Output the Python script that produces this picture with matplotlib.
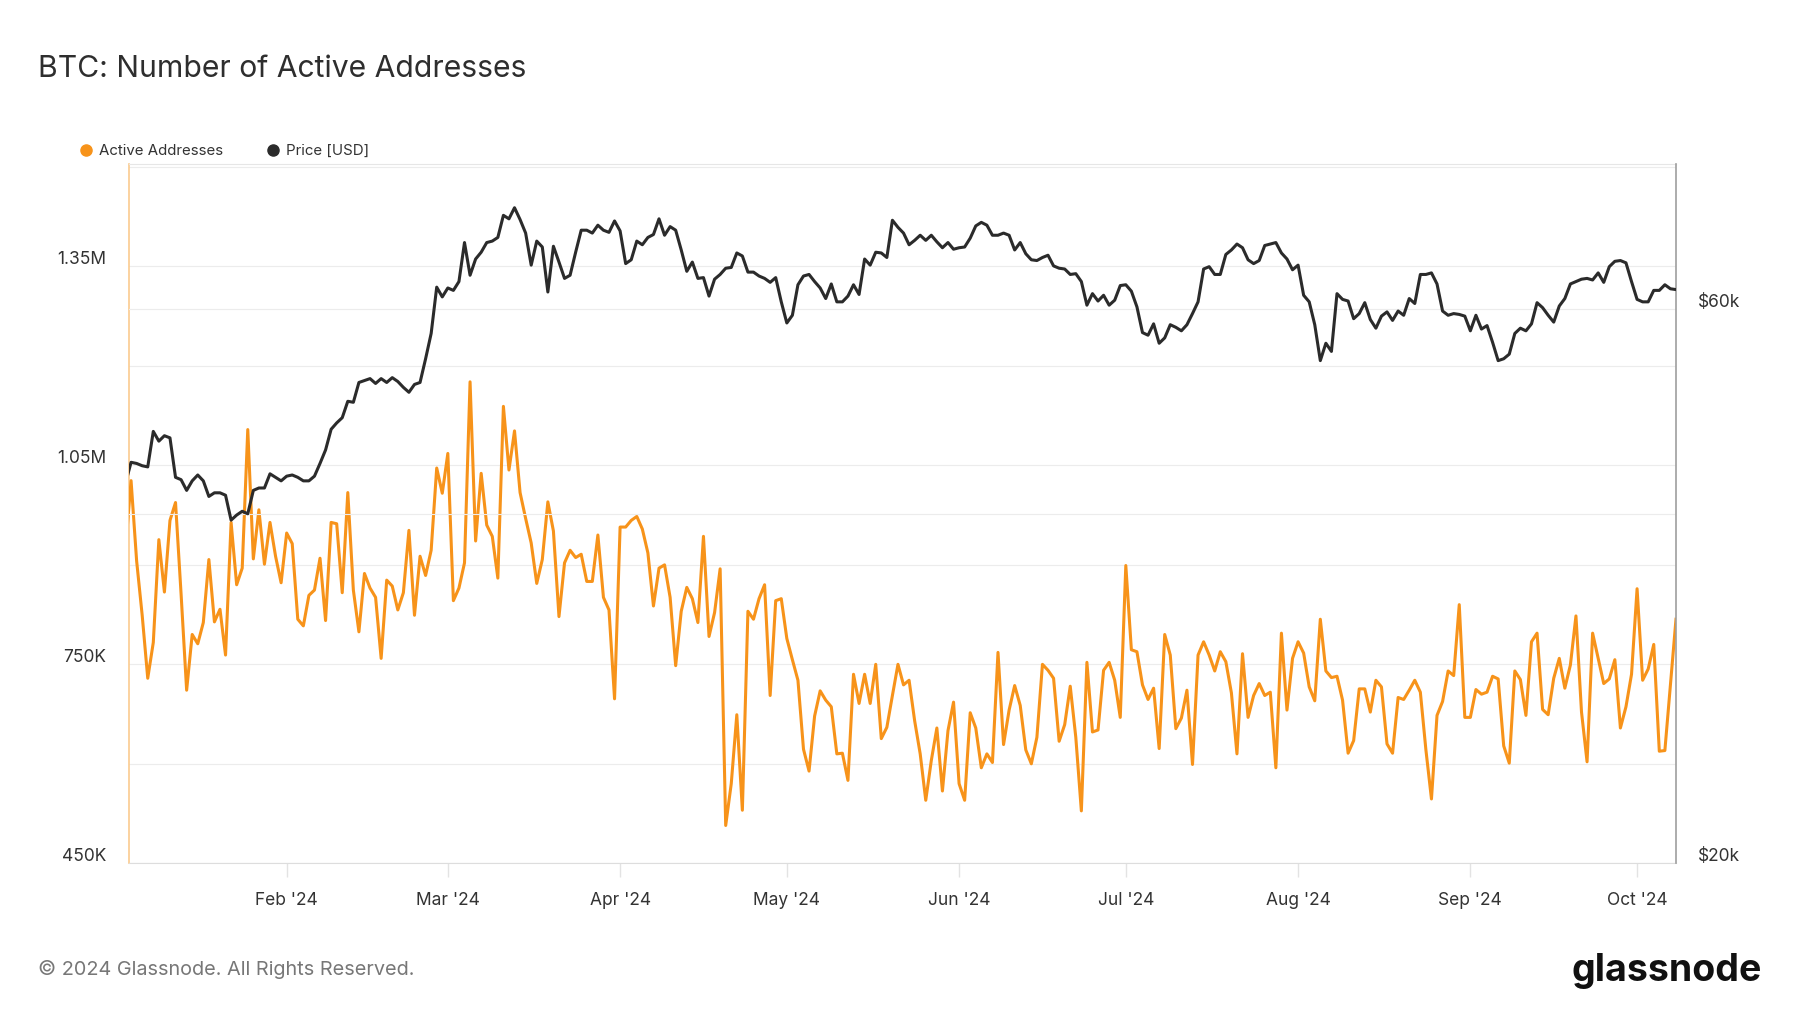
import pandas as pd
import matplotlib.pyplot as plt
import matplotlib.transforms as mtransforms
from matplotlib.lines import Line2D
from matplotlib.ticker import NullLocator

plt.rcParams['font.family'] = ['Inter', 'DejaVu Sans']

# daily points, Jan 3 (clipped at the left edge) to Oct 8 2024
dates = pd.date_range('2024-01-03', '2024-10-08', freq='D')

# active addresses, thousands
active_k = [925,
            1027, 906, 824, 729, 783, 938, 859, 967, 994, 856,
            711, 795, 781, 813, 908, 814, 833, 764, 964, 870,
            895, 1104, 909, 983, 901, 964, 913, 873, 948, 932,
            818, 808, 854, 862, 910, 816, 964, 962, 858, 1009,
            862, 799, 887, 865, 851, 759, 877, 868, 832, 858,
            952, 824, 913, 884, 922, 1046, 1008, 1068, 846, 865,
            903, 1176, 936, 1038, 960, 943, 880, 1139, 1043, 1102,
            1009, 970, 933, 872, 908, 995, 951, 822, 903, 922,
            911, 916, 875, 875, 945, 851, 832, 698, 957, 957,
            967, 973, 954, 918, 838, 895, 900, 851, 748, 830,
            866, 849, 813, 943, 792, 828, 894, 507, 570, 674,
            530, 830, 818, 849, 870, 703, 846, 849, 789, 757,
            726, 622, 589, 672, 710, 696, 686, 615, 616, 575,
            735, 691, 735, 691, 750, 638, 655, 703, 750, 719,
            726, 665, 615, 545, 605, 654, 559, 650, 693, 570,
            545, 677, 654, 594, 615, 602, 768, 629, 681, 718,
            688, 621, 600, 640, 750, 741, 729, 634, 659, 717,
            640, 529, 753, 648, 651, 741, 753, 726, 670, 899,
            772, 769, 719, 697, 714, 623, 795, 764, 653, 669,
            711, 599, 764, 784, 764, 740, 769, 754, 707, 615,
            766, 670, 703, 721, 703, 708, 594, 797, 681, 759,
            784, 767, 716, 695, 818, 740, 730, 732, 696, 616,
            635, 713, 713, 678, 726, 716, 630, 616, 700, 697,
            711, 726, 708, 621, 547, 673, 694, 740, 733, 840,
            670, 670, 712, 705, 708, 732, 728, 627, 601, 740,
            727, 673, 784, 797, 682, 674, 729, 759, 714, 749,
            823, 678, 603, 797, 759, 721, 728, 757, 654, 686,
            735, 864, 726, 743, 780, 619, 620, 719, 818]

# BTC price, thousands of USD
price_k = [42.5,
           44.3, 44.2, 44.0, 43.9, 47.1, 46.2, 46.7, 46.5, 43.0, 42.8,
           41.9, 42.7, 43.2, 42.7, 41.4, 41.7, 41.7, 41.5, 39.5, 39.9,
           40.2, 40.0, 41.9, 42.1, 42.1, 43.3, 43.0, 42.7, 43.1, 43.2,
           43.0, 42.7, 42.7, 43.1, 44.2, 45.4, 47.3, 47.9, 48.4, 50.0,
           49.9, 51.9, 52.1, 52.3, 51.8, 52.3, 51.9, 52.4, 52.0, 51.4,
           50.9, 51.7, 51.9, 54.4, 57.2, 62.7, 61.5, 62.6, 62.3, 63.4,
           68.5, 64.2, 66.3, 67.2, 68.5, 68.7, 69.2, 72.3, 71.8, 73.4,
           71.7, 69.8, 65.5, 68.7, 67.9, 62.1, 68.0, 65.9, 63.8, 64.2,
           67.2, 70.2, 70.2, 69.8, 70.9, 70.2, 69.9, 71.5, 70.1, 65.7,
           66.2, 68.7, 68.2, 69.2, 69.6, 71.8, 69.5, 70.7, 70.2, 67.5,
           64.7, 65.9, 63.8, 63.9, 61.6, 63.7, 64.3, 65.1, 65.2, 67.1,
           66.7, 64.6, 64.6, 64.1, 63.8, 63.3, 63.9, 60.9, 58.4, 59.3,
           63.0, 64.1, 64.3, 63.4, 62.6, 61.3, 63.1, 60.9, 60.9, 61.6,
           63.0, 61.8, 66.3, 65.5, 67.2, 67.1, 66.5, 71.6, 70.6, 69.8,
           68.2, 68.8, 69.5, 68.8, 69.5, 68.6, 67.8, 68.5, 67.6, 67.8,
           67.9, 69.1, 70.8, 71.3, 70.9, 69.5, 69.5, 69.8, 69.5, 67.5,
           68.5, 67.0, 66.2, 66.1, 66.5, 66.8, 65.4, 65.1, 65.0, 64.3,
           64.4, 63.4, 60.5, 61.9, 61.0, 61.7, 60.5, 61.1, 62.9, 63.0,
           62.2, 60.3, 57.3, 57.0, 58.3, 56.1, 56.7, 58.2, 57.9, 57.5,
           58.2, 59.5, 60.9, 65.0, 65.3, 64.3, 64.3, 66.9, 67.5, 68.3,
           67.8, 66.2, 65.7, 66.1, 68.1, 68.3, 68.5, 67.1, 66.3, 64.9,
           65.5, 61.7, 60.9, 58.2, 54.2, 56.1, 55.2, 61.9, 61.2, 61.0,
           58.9, 59.5, 60.8, 58.8, 57.8, 59.2, 59.7, 58.7, 59.8, 59.3,
           61.3, 60.7, 64.3, 64.3, 64.5, 63.1, 59.8, 59.3, 59.5, 59.4,
           59.2, 57.5, 59.3, 57.7, 58.1, 56.2, 54.2, 54.4, 54.9, 57.2,
           57.8, 57.5, 58.3, 60.8, 60.2, 59.3, 58.5, 60.4, 61.3, 63.1,
           63.4, 63.7, 63.8, 63.6, 64.5, 63.3, 65.3, 66.0, 66.1, 65.8,
           63.4, 61.2, 60.9, 60.9, 62.3, 62.3, 63.0, 62.5, 62.4]

month_ticks = pd.date_range('2024-02-01', '2024-10-01', freq='MS')
month_labels = [d.strftime("%b '%y") for d in month_ticks]

left_ticks = [450, 600, 750, 900, 1050, 1200, 1350, 1500]
left_labels = ['450K', '', '750K', '', '1.05M', '', '1.35M', '']
right_ticks = [20, 40, 60]
right_labels = ['$20k', '', '$60k']

orange = '#f7931a'
dark = '#2b2b2b'
txt = '#333333'
grid = '#ececec'

fig = plt.figure(figsize=(18, 10.13), dpi=100)
fig.set_facecolor('white')
ax = fig.add_axes([0.0714, 0.1478, 0.8597, 0.6900])
ax2 = ax.twinx()

ax.plot(dates, active_k, color=orange, lw=2.2, zorder=3)
ax2.plot(dates, price_k, color=dark, lw=2.2, zorder=3)

ax.set_xlim(dates[1] - pd.Timedelta(hours=11), dates[-1])
ax.set_ylim(450, 1504)
ax.set_yticks(left_ticks)
ax.set_yticklabels(left_labels)

ax2.set_yscale('log')
ax2.set_ylim(20, 80)
ax2.set_yticks(right_ticks)
ax2.set_yticklabels(right_labels)
ax2.yaxis.set_minor_locator(NullLocator())

ax.set_xticks(month_ticks)
ax.set_xticklabels(month_labels)

ax.tick_params(axis='x', length=10, width=1, color='#e3e3e3', pad=10.5,
               labelsize=12.5, labelcolor=txt)
ax.tick_params(axis='y', length=0, pad=16, labelsize=12.5, labelcolor=txt)
ax2.tick_params(axis='y', length=0, pad=16, labelsize=12.5, labelcolor=txt)

ax.grid(axis='y', color=grid, lw=0.8)
ax2.grid(axis='y', color=grid, lw=0.8)
ax.set_axisbelow(True)

# labels sit a bit above their grid lines
up = mtransforms.ScaledTranslation(0, 0.09, fig.dpi_scale_trans)
for lab in ax.get_yticklabels() + ax2.get_yticklabels():
    lab.set_transform(lab.get_transform() + up)

ax.spines['right'].set_visible(False)
for s in ['left', 'top', 'bottom']:
    ax2.spines[s].set_visible(False)
ax.spines['left'].set_color('#fbcb8f')
ax.spines['left'].set_linewidth(1.2)
ax.spines['top'].set_color('#e6e6e6')
ax.spines['bottom'].set_color('#dddddd')
ax2.spines['right'].set_color('#9e9e9e')
ax2.spines['right'].set_linewidth(1.2)

handles = [Line2D([], [], ls='none', marker='o', ms=8, color=orange),
           Line2D([], [], ls='none', marker='o', ms=8, color=dark)]
fig.legend(handles, ['Active Addresses', 'Price [USD]'], loc='center left',
           bbox_to_anchor=(0.0405, 0.851), ncol=2, frameon=False,
           fontsize=10.8, handlelength=0.8, handletextpad=0.45,
           columnspacing=2.9, borderpad=0, labelcolor=txt)

fig.text(38 / 1800, 1 - 69 / 1013, 'BTC: Number of Active Addresses',
         fontsize=21.7, color='#2e2e2e', ha='left', va='center')
fig.text(38 / 1800, 1 - 969 / 1013, '\u00a9 2024 Glassnode. All Rights Reserved.',
         fontsize=14.3, color='#777777', ha='left', va='center')
fig.text(1762 / 1800, 1 - 971 / 1013, 'glassnode', fontsize=27,
         fontweight='bold', color='#111111', ha='right', va='center')

fig.savefig('out.png', dpi=100)
